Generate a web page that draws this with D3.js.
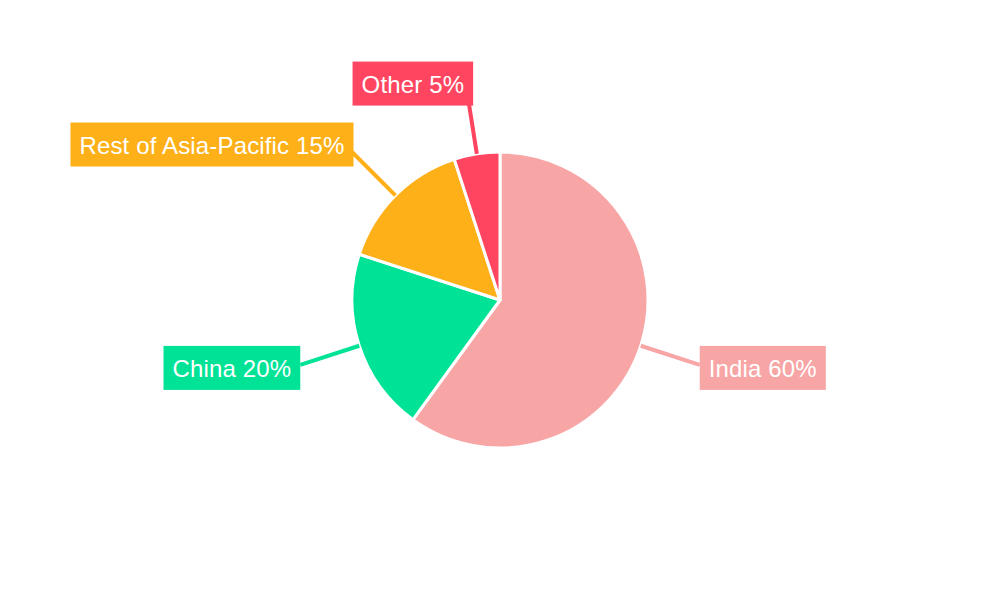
<!DOCTYPE html>
<html>
<head>
<meta charset="utf-8">
<script src="https://cdn.jsdelivr.net/npm/d3@7"></script>
<style>
  html, body { margin: 0; padding: 0; background: #fff; }
  svg { display: block; }
</style>
</head>
<body>
<svg id="chart" width="1000" height="600"></svg>
<script>
const categories = ["India", "China", "Rest of Asia-Pacific", "Other"];
const values = [60, 20, 15, 5];
const colors = ["#F8A5A6", "#00E396", "#FEB019", "#FF4560"];
// small nudges for label boxes (dx, dy) relative to leader end
const labelNudge = [[0, 3], [0, 3], [2, -7], [6, -9]];

const W = 1000, H = 600;
const cx = 500, cy = 300, R = 148, Rlabel = 210;
const svg = d3.select("#chart");
const g = svg.append("g").attr("transform", `translate(${cx},${cy})`);

const data = categories.map((c, i) => ({ name: c, value: values[i], color: colors[i] }));
const pie = d3.pie().sort(null).value(d => d.value);
const arcs = pie(data);
const arc = d3.arc().innerRadius(0).outerRadius(R);
const arcEdge = d3.arc().innerRadius(R).outerRadius(R);
const arcLabel = d3.arc().innerRadius(Rlabel).outerRadius(Rlabel);

g.selectAll("path.slice").data(arcs).enter().append("path")
  .attr("class", "slice")
  .attr("d", arc)
  .attr("fill", d => d.data.color)
  .attr("stroke", "#fff")
  .attr("stroke-width", 3)
  .attr("stroke-linejoin", "round");

// leader lines
g.selectAll("line.leader").data(arcs).enter().append("line")
  .attr("class", "leader")
  .attr("x1", d => arcEdge.centroid(d)[0])
  .attr("y1", d => arcEdge.centroid(d)[1])
  .attr("x2", d => arcLabel.centroid(d)[0])
  .attr("y2", d => arcLabel.centroid(d)[1])
  .attr("stroke", d => d.data.color)
  .attr("stroke-width", 4);

// label boxes
const fontSize = 24, padX = 9, boxH = 44;
arcs.forEach((d, i) => {
  const [ex, ey] = arcLabel.centroid(d);
  const mid = (d.startAngle + d.endAngle) / 2;
  const lg = g.append("g");
  const txt = lg.append("text")
    .text(`${d.data.name} ${d.data.value}%`)
    .attr("font-family", "'Liberation Sans', Arial, sans-serif")
    .attr("font-size", fontSize)
    .attr("letter-spacing", 0.15)
    .attr("fill", "#fff")
    .attr("dominant-baseline", "central");
  const tw = txt.node().getComputedTextLength();
  const bw = tw + 2 * padX;
  const bx = (Math.sin(mid) > 0 ? ex : ex - bw) + labelNudge[i][0];
  const bcy = ey + labelNudge[i][1];
  lg.insert("rect", "text")
    .attr("x", bx).attr("y", bcy - boxH / 2)
    .attr("width", bw).attr("height", boxH)
    .attr("fill", d.data.color);
  txt.attr("x", bx + padX).attr("y", bcy + 1);
});
</script>
</body>
</html>
